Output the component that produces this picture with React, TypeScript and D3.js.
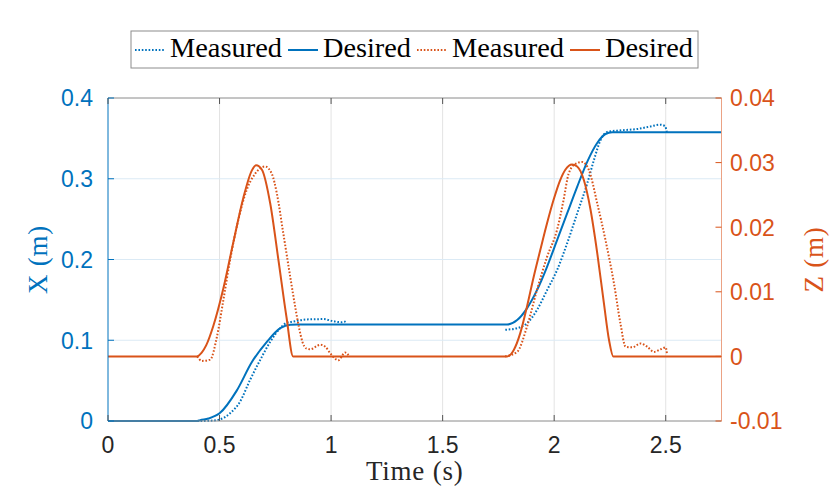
// App.tsx
import React from 'react';
import * as d3 from 'd3';

// axis ticks
const timeTicks = [0, 0.5, 1, 1.5, 2, 2.5];
const xTicks = [0, 0.1, 0.2, 0.3, 0.4];
const zTicks = [-0.01, 0, 0.01, 0.02, 0.03, 0.04];

// X desired (m)
const xDesT = [0, 0.4, 0.413, 0.45, 0.5, 0.577, 0.645, 0.712, 0.772, 0.817, 0.85, 1.789, 1.834, 1.878, 1.923, 1.968, 2.013, 2.058, 2.103, 2.148, 2.192, 2.23, 2.26, 2.75];
const xDes = [0, 0, 0.001, 0.003, 0.0095, 0.0376, 0.073, 0.098, 0.115, 0.1193, 0.1195, 0.1195, 0.125, 0.1395, 0.162, 0.191, 0.224, 0.257, 0.29, 0.321, 0.344, 0.3554, 0.3575, 0.3575];

// X measured (m), two recorded runs
const xMeasT1 = [0.4, 0.47, 0.502, 0.547, 0.592, 0.637, 0.682, 0.727, 0.772, 0.8, 0.831, 0.891, 0.936, 0.966, 1.011, 1.048, 1.063, 1.071];
const xMeas1 = [0, 0.0005, 0.002, 0.0095, 0.024, 0.051, 0.0755, 0.098, 0.115, 0.1215, 0.1231, 0.1258, 0.1261, 0.1262, 0.1235, 0.1223, 0.123, 0.1212];
const xMeasT2 = [1.781, 1.834, 1.878, 1.923, 1.968, 2.013, 2.058, 2.103, 2.148, 2.178, 2.208, 2.238, 2.3, 2.375, 2.43, 2.475, 2.497, 2.505];
const xMeas2 = [0.113, 0.115, 0.121, 0.1375, 0.162, 0.187, 0.22, 0.257, 0.294, 0.323, 0.348, 0.358, 0.36, 0.3617, 0.3647, 0.367, 0.365, 0.358];

// Z desired (m)
const zDesT = [0, 0.397, 0.42, 0.44, 0.472, 0.517, 0.562, 0.607, 0.645, 0.664, 0.69, 0.727, 0.764, 0.8, 0.83, 1.789, 1.819, 1.848, 1.878, 1.908, 1.938, 1.968, 1.997, 2.027, 2.05, 2.08, 2.103, 2.133, 2.163, 2.193, 2.223, 2.246, 2.265, 2.75];
const zDes = [0, 0, 0.0006, 0.0017, 0.0047, 0.0105, 0.0177, 0.0246, 0.0288, 0.0296, 0.0289, 0.0237, 0.0149, 0.0061, 0, 0, 0.001, 0.0036, 0.0077, 0.0123, 0.0165, 0.0206, 0.0242, 0.0273, 0.0289, 0.0297, 0.0294, 0.0273, 0.0227, 0.016, 0.0082, 0.0025, 0, 0];

// Z measured (m)
const zMeasT1 = [0.4, 0.42, 0.458, 0.488, 0.517, 0.547, 0.584, 0.622, 0.66, 0.704, 0.734, 0.757, 0.786, 0.816, 0.84, 0.856, 0.872, 0.89, 0.906, 0.951, 0.974, 0.996, 1.033, 1.063, 1.078];
const zMeas1 = [0, -0.0007, -0.0005, 0.003, 0.0087, 0.0149, 0.0211, 0.0258, 0.0283, 0.0294, 0.0283, 0.0252, 0.019, 0.0125, 0.0075, 0.0045, 0.0022, 0.0012, 0.0011, 0.0018, 0.0015, 0.0005, -0.0006, 0.0006, 0.0002];
const zMeasT2 = [1.78, 1.834, 1.878, 1.923, 1.968, 2.013, 2.042, 2.065, 2.095, 2.125, 2.155, 2.193, 2.23, 2.268, 2.297, 2.32, 2.35, 2.387, 2.417, 2.447, 2.477, 2.5, 2.505];
const zMeas2 = [0, 0.0007, 0.0046, 0.0103, 0.0154, 0.0196, 0.0242, 0.0283, 0.0298, 0.0301, 0.0289, 0.0237, 0.018, 0.0113, 0.0051, 0.0015, 0.0014, 0.002, 0.0015, 0.0007, 0.0011, 0.0014, 0.0005];

const legendLabels = ['Measured', 'Desired', 'Measured', 'Desired'];

const BLUE = '#0072BD';
const ORANGE = '#D95319';
const SANS = '"Liberation Sans", Arial, Helvetica, sans-serif';
const SERIF = '"Liberation Serif", "Times New Roman", serif';

const zip = (t: number[], v: number[]): [number, number][] => t.map((d, i) => [d, v[i]]);

const App: React.FC = () => {
  const svgRef = React.useRef<SVGSVGElement>(null);
  const width = 830;
  const height = 491;
  const left = 108, right = 721.5, top = 98, bottom = 421;

  React.useEffect(() => {
    if (!svgRef.current) return;
    const svg = d3.select(svgRef.current);
    svg.selectAll('*').remove();

    const x = d3.scaleLinear().domain([0, 2.75]).range([left, right]);
    const yL = d3.scaleLinear().domain([0, 0.4]).range([bottom, top]);
    const yR = d3.scaleLinear().domain([-0.01, 0.04]).range([bottom, top]);

    svg.append('rect').attr('width', width).attr('height', height).attr('fill', '#fff');

    // grid
    const grid = svg.append('g');
    grid.selectAll('.gx')
      .data(timeTicks.slice(1))
      .enter().append('line')
      .attr('x1', d => x(d)).attr('x2', d => x(d))
      .attr('y1', top).attr('y2', bottom)
      .attr('stroke', '#e3e3e3').attr('stroke-width', 1);
    grid.selectAll('.gy')
      .data(xTicks.slice(1, -1))
      .enter().append('line')
      .attr('x1', left).attr('x2', right)
      .attr('y1', d => yL(d)).attr('y2', d => yL(d))
      .attr('stroke', '#dbeaf5').attr('stroke-width', 1);

    // lines
    svg.append('clipPath').attr('id', 'plot-clip')
      .append('rect').attr('x', left).attr('y', top - 2)
      .attr('width', right - left).attr('height', bottom - top + 4);
    const plot = svg.append('g').attr('clip-path', 'url(#plot-clip)');

    const lineL = d3.line<[number, number]>()
      .x(d => x(d[0])).y(d => yL(d[1])).curve(d3.curveMonotoneX);
    const lineR = d3.line<[number, number]>()
      .x(d => x(d[0])).y(d => yR(d[1])).curve(d3.curveMonotoneX);

    const series = [
      { d: lineL(zip(xMeasT1, xMeas1)), color: BLUE, dash: true },
      { d: lineL(zip(xMeasT2, xMeas2)), color: BLUE, dash: true },
      { d: lineL(zip(xDesT, xDes)), color: BLUE, dash: false },
      { d: lineR(zip(zMeasT1, zMeas1)), color: ORANGE, dash: true },
      { d: lineR(zip(zMeasT2, zMeas2)), color: ORANGE, dash: true },
      { d: lineR(zip(zDesT, zDes)), color: ORANGE, dash: false },
    ];
    series.forEach(s => {
      plot.append('path')
        .attr('d', s.d)
        .attr('fill', 'none')
        .attr('stroke', s.color)
        .attr('stroke-width', 2)
        .attr('stroke-dasharray', s.dash ? '1.6 1.8' : null)
        .attr('stroke-linejoin', 'round');
    });

    // axes box
    const axes = svg.append('g');
    axes.append('line').attr('x1', left).attr('x2', right).attr('y1', top).attr('y2', top)
      .attr('stroke', '#8a8a8a').attr('stroke-width', 1);
    axes.append('line').attr('x1', left).attr('x2', right).attr('y1', bottom).attr('y2', bottom)
      .attr('stroke', '#8a8a8a').attr('stroke-width', 1);
    axes.append('line').attr('x1', left).attr('x2', left).attr('y1', top).attr('y2', bottom)
      .attr('stroke', BLUE).attr('stroke-width', 1);
    axes.append('line').attr('x1', right).attr('x2', right).attr('y1', top).attr('y2', bottom)
      .attr('stroke', '#eba284').attr('stroke-width', 1);

    const tickLen = 6;

    // bottom / top ticks
    timeTicks.forEach(t => {
      axes.append('line').attr('x1', x(t)).attr('x2', x(t))
        .attr('y1', bottom).attr('y2', bottom - tickLen).attr('stroke', '#555');
      axes.append('line').attr('x1', x(t)).attr('x2', x(t))
        .attr('y1', top).attr('y2', top + tickLen).attr('stroke', '#555');
      axes.append('text').attr('x', x(t)).attr('y', 453)
        .attr('text-anchor', 'middle').style('font-family', SANS).style('font-size', '23px')
        .attr('fill', '#262626').text(String(t));
    });

    // left ticks
    xTicks.forEach(v => {
      axes.append('line').attr('x1', left).attr('x2', left + tickLen)
        .attr('y1', yL(v)).attr('y2', yL(v)).attr('stroke', BLUE);
      axes.append('text').attr('x', 93).attr('y', yL(v) + 8.3)
        .attr('text-anchor', 'end').style('font-family', SANS).style('font-size', '23px')
        .attr('fill', BLUE).text(String(v));
    });

    // right ticks
    zTicks.forEach(v => {
      axes.append('line').attr('x1', right).attr('x2', right - tickLen)
        .attr('y1', yR(v)).attr('y2', yR(v)).attr('stroke', ORANGE);
      axes.append('text').attr('x', 730).attr('y', yR(v) + 8.3)
        .attr('text-anchor', 'start').style('font-family', SANS).style('font-size', '23px')
        .attr('fill', ORANGE).text(String(v));
    });

    // axis labels
    svg.append('text').attr('x', (left + right) / 2).attr('y', 480)
      .attr('text-anchor', 'middle').style('font-family', SERIF).style('font-size', '27px')
      .attr('letter-spacing', 0.8).attr('fill', '#262626').text('Time (s)');
    svg.append('text')
      .attr('transform', `translate(46.5,${(top + bottom) / 2}) rotate(-90)`)
      .attr('text-anchor', 'middle').style('font-family', SERIF).style('font-size', '27px')
      .attr('letter-spacing', 0.8).attr('fill', BLUE).text('X (m)');
    svg.append('text')
      .attr('transform', `translate(823,${(top + bottom) / 2}) rotate(-90)`)
      .attr('text-anchor', 'middle').style('font-family', SERIF).style('font-size', '27px')
      .attr('letter-spacing', 0.8).attr('fill', ORANGE).text('Z (m)');

    // legend
    const legend = svg.append('g');
    legend.append('rect').attr('x', 131).attr('y', 31).attr('width', 567).attr('height', 37)
      .attr('fill', '#fff').attr('stroke', '#8c8c8c').attr('stroke-width', 1);
    const legendItems = [
      { label: legendLabels[0], color: BLUE, dash: true, w: 112 },
      { label: legendLabels[1], color: BLUE, dash: false, w: 88 },
      { label: legendLabels[2], color: ORANGE, dash: true, w: 112 },
      { label: legendLabels[3], color: ORANGE, dash: false, w: 88 },
    ];
    let lx = 135;
    legendItems.forEach(item => {
      legend.append('line').attr('x1', lx).attr('x2', lx + 30).attr('y1', 50).attr('y2', 50)
        .attr('stroke', item.color).attr('stroke-width', 2)
        .attr('stroke-dasharray', item.dash ? '1.6 1.8' : null);
      legend.append('text').attr('x', lx + 35).attr('y', 56.7)
        .style('font-family', SERIF).style('font-size', '27px')
        .attr('textLength', item.w).attr('lengthAdjust', 'spacingAndGlyphs')
        .attr('fill', '#000').text(item.label);
      lx += 35 + item.w + 6;
    });
  }, []);

  return (
    <svg ref={svgRef} width={width} height={height}
      style={{ position: 'absolute', left: 0, top: 0, display: 'block' }} />
  );
};

export default App;
